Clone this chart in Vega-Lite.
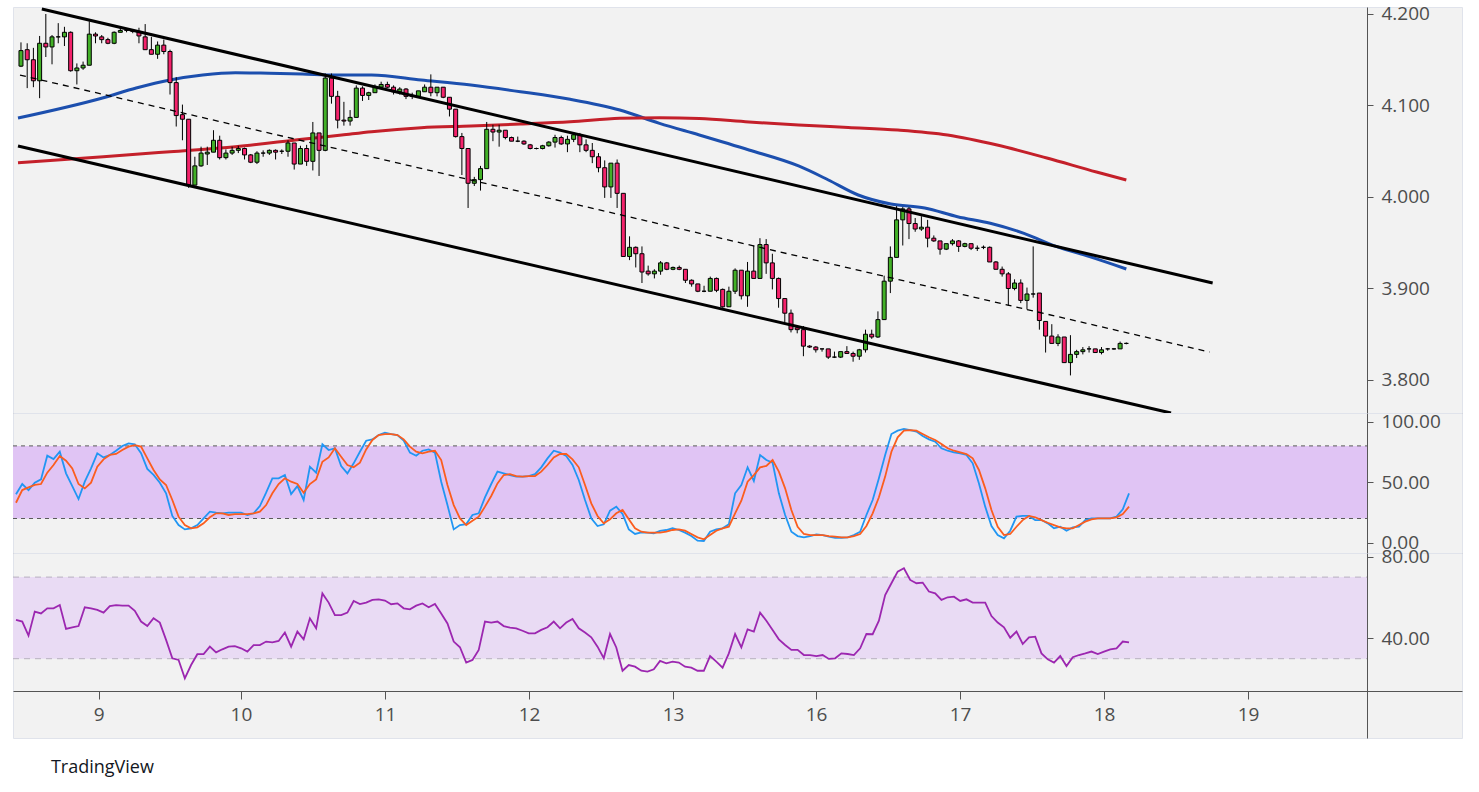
{
  "$schema": "https://vega.github.io/schema/vega-lite/v6.json",
  "background": "#ffffff",
  "padding": {"left": 11, "top": 4, "right": 16, "bottom": 0},
  "title": {
    "text": "TradingView",
    "orient": "bottom",
    "anchor": "start",
    "offset": 20,
    "dx": 39,
    "font": "Open Sans",
    "fontSize": 18,
    "fontWeight": "normal",
    "color": "#131722"
  },
  "spacing": 0,
  "bounds": "flush",
  "resolve": {"scale": {"x": "independent", "y": "independent"}},
  "datasets": {
    "ma": [
      {"i": 0.52, "v": 4.0863, "s": "ma1"}, {"i": 14.27, "v": 4.1085, "s": "ma1"}, {"i": 19.55, "v": 4.1191, "s": "ma1"},
      {"i": 24.99, "v": 4.1279, "s": "ma1"}, {"i": 30.27, "v": 4.1333, "s": "ma1"}, {"i": 35.54, "v": 4.1358, "s": "ma1"},
      {"i": 40.98, "v": 4.1352, "s": "ma1"}, {"i": 46.26, "v": 4.1344, "s": "ma1"}, {"i": 51.54, "v": 4.1333, "s": "ma1"},
      {"i": 57.45, "v": 4.1333, "s": "ma1"}, {"i": 65.45, "v": 4.1279, "s": "ma1"}, {"i": 73.45, "v": 4.1224, "s": "ma1"},
      {"i": 81.44, "v": 4.1151, "s": "ma1"}, {"i": 89.44, "v": 4.1068, "s": "ma1"}, {"i": 97.44, "v": 4.0951, "s": "ma1"},
      {"i": 103.83, "v": 4.0805, "s": "ma1"}, {"i": 110.23, "v": 4.0678, "s": "ma1"}, {"i": 118.23, "v": 4.0514, "s": "ma1"},
      {"i": 126.22, "v": 4.0339, "s": "ma1"}, {"i": 131.02, "v": 4.0186, "s": "ma1"}, {"i": 135.82, "v": 4.0022, "s": "ma1"},
      {"i": 141.09, "v": 3.9923, "s": "ma1"}, {"i": 146.53, "v": 3.988, "s": "ma1"}, {"i": 151.81, "v": 3.9785, "s": "ma1"},
      {"i": 157.09, "v": 3.9713, "s": "ma1"}, {"i": 162.52, "v": 3.9603, "s": "ma1"}, {"i": 167.8, "v": 3.9457, "s": "ma1"},
      {"i": 173.08, "v": 3.9348, "s": "ma1"}, {"i": 179.0, "v": 3.9213, "s": "ma1"},
      {"i": 0.52, "v": 4.0375, "s": "ma2"}, {"i": 14.27, "v": 4.044, "s": "ma2"}, {"i": 24.99, "v": 4.0495, "s": "ma2"},
      {"i": 35.54, "v": 4.055, "s": "ma2"}, {"i": 46.26, "v": 4.0631, "s": "ma2"}, {"i": 52.66, "v": 4.0678, "s": "ma2"},
      {"i": 57.45, "v": 4.0714, "s": "ma2"}, {"i": 65.45, "v": 4.0757, "s": "ma2"}, {"i": 73.45, "v": 4.0776, "s": "ma2"},
      {"i": 81.44, "v": 4.0798, "s": "ma2"}, {"i": 89.44, "v": 4.0823, "s": "ma2"}, {"i": 97.44, "v": 4.086, "s": "ma2"},
      {"i": 103.83, "v": 4.0867, "s": "ma2"}, {"i": 110.23, "v": 4.0858, "s": "ma2"}, {"i": 118.23, "v": 4.082, "s": "ma2"},
      {"i": 126.22, "v": 4.0787, "s": "ma2"}, {"i": 134.22, "v": 4.076, "s": "ma2"}, {"i": 142.21, "v": 4.0732, "s": "ma2"},
      {"i": 150.21, "v": 4.0678, "s": "ma2"}, {"i": 158.2, "v": 4.0568, "s": "ma2"}, {"i": 166.2, "v": 4.0426, "s": "ma2"},
      {"i": 174.2, "v": 4.0273, "s": "ma2"}, {"i": 179.0, "v": 4.0186, "s": "ma2"}
    ],
    "chan": [
      {"i": 4.36, "v": 4.2055, "s": "top"}, {"i": 192.9, "v": 3.906, "s": "top"},
      {"i": 0.52, "v": 4.0557, "s": "bottom"}, {"i": 186.2, "v": 3.7639, "s": "bottom"},
      {"i": 0.84, "v": 4.1333, "s": "mid"}, {"i": 192.4, "v": 3.8306, "s": "mid"}
    ],
    "bars": [
      {"i":1,"o":4.143,"h":4.169,"l":4.142,"c":4.160,"k":40,"d":33,"r":49},
      {"i":2,"o":4.161,"h":4.168,"l":4.119,"c":4.150,"k":48.5,"d":43.5,"r":48.2},
      {"i":3,"o":4.150,"h":4.163,"l":4.120,"c":4.127,"k":43.5,"d":45.7,"r":41.3},
      {"i":4,"o":4.127,"h":4.176,"l":4.108,"c":4.168,"k":49.6,"d":47.7,"r":53.1},
      {"i":5,"o":4.168,"h":4.200,"l":4.153,"c":4.164,"k":52.3,"d":48.5,"r":52.2},
      {"i":6,"o":4.164,"h":4.177,"l":4.145,"c":4.175,"k":71.9,"d":57.9,"r":54.7},
      {"i":7,"o":4.175,"h":4.190,"l":4.168,"c":4.175,"k":69.1,"d":64.2,"r":54.7},
      {"i":8,"o":4.175,"h":4.186,"l":4.165,"c":4.180,"k":75.2,"d":71.6,"r":56.3},
      {"i":9,"o":4.180,"h":4.181,"l":4.137,"c":4.138,"k":57.3,"d":67.8,"r":44.6},
      {"i":10,"o":4.138,"h":4.146,"l":4.123,"c":4.141,"k":46.8,"d":61.4,"r":45.4},
      {"i":11,"o":4.141,"h":4.148,"l":4.139,"c":4.144,"k":36.1,"d":48.5,"r":46.0},
      {"i":12,"o":4.144,"h":4.192,"l":4.144,"c":4.178,"k":50.4,"d":44.9,"r":55.2},
      {"i":13,"o":4.178,"h":4.180,"l":4.168,"c":4.176,"k":61.5,"d":49.6,"r":54.7},
      {"i":14,"o":4.175,"h":4.177,"l":4.168,"c":4.172,"k":73.9,"d":62.8,"r":53.9},
      {"i":15,"o":4.172,"h":4.174,"l":4.167,"c":4.168,"k":70.5,"d":68.9,"r":52.6},
      {"i":16,"o":4.168,"h":4.181,"l":4.167,"c":4.180,"k":72.5,"d":72.5,"r":55.8},
      {"i":17,"o":4.180,"h":4.185,"l":4.180,"c":4.182,"k":76.0,"d":73.3,"r":56.3},
      {"i":18,"o":4.182,"h":4.184,"l":4.180,"c":4.182,"k":79.9,"d":76.6,"r":56.0},
      {"i":19,"o":4.182,"h":4.183,"l":4.179,"c":4.181,"k":82.1,"d":79.4,"r":56.0},
      {"i":20,"o":4.181,"h":4.185,"l":4.168,"c":4.176,"k":81.3,"d":80.7,"r":53.5},
      {"i":21,"o":4.175,"h":4.189,"l":4.161,"c":4.161,"k":73.9,"d":79.4,"r":48.2},
      {"i":22,"o":4.161,"h":4.175,"l":4.156,"c":4.156,"k":61.0,"d":69.7,"r":46.0},
      {"i":23,"o":4.156,"h":4.170,"l":4.151,"c":4.166,"k":56.0,"d":60.1,"r":49.8},
      {"i":24,"o":4.166,"h":4.172,"l":4.156,"c":4.159,"k":49.6,"d":52.3,"r":47.7},
      {"i":25,"o":4.159,"h":4.161,"l":4.112,"c":4.125,"k":40.8,"d":47.7,"r":39.2},
      {"i":26,"o":4.125,"h":4.131,"l":4.077,"c":4.089,"k":22.1,"d":35.3,"r":30.2},
      {"i":27,"o":4.090,"h":4.101,"l":4.062,"c":4.085,"k":14.6,"d":21.5,"r":29.4},
      {"i":28,"o":4.085,"h":4.085,"l":4.010,"c":4.013,"k":11.0,"d":14.6,"r":20.4},
      {"i":29,"o":4.013,"h":4.044,"l":4.013,"c":4.034,"k":11.9,"d":11.9,"r":26.9},
      {"i":30,"o":4.034,"h":4.055,"l":4.033,"c":4.048,"k":14.6,"d":12.7,"r":32.2},
      {"i":31,"o":4.047,"h":4.055,"l":4.035,"c":4.049,"k":20.1,"d":16.0,"r":32.3},
      {"i":32,"o":4.049,"h":4.073,"l":4.049,"c":4.062,"k":25.6,"d":21.0,"r":35.9},
      {"i":33,"o":4.062,"h":4.067,"l":4.041,"c":4.043,"k":24.8,"d":24.3,"r":33.1},
      {"i":34,"o":4.043,"h":4.052,"l":4.041,"c":4.048,"k":24.3,"d":24.3,"r":34.6},
      {"i":35,"o":4.048,"h":4.055,"l":4.046,"c":4.051,"k":24.8,"d":22.9,"r":35.9},
      {"i":36,"o":4.051,"h":4.056,"l":4.048,"c":4.053,"k":24.8,"d":23.7,"r":36.2},
      {"i":37,"o":4.053,"h":4.054,"l":4.041,"c":4.046,"k":24.8,"d":23.7,"r":35.1},
      {"i":38,"o":4.046,"h":4.047,"l":4.037,"c":4.038,"k":22.9,"d":23.7,"r":33.5},
      {"i":39,"o":4.038,"h":4.050,"l":4.036,"c":4.048,"k":24.3,"d":24.3,"r":36.7},
      {"i":40,"o":4.048,"h":4.051,"l":4.044,"c":4.048,"k":30.3,"d":25.6,"r":36.7},
      {"i":41,"o":4.048,"h":4.052,"l":4.046,"c":4.051,"k":41.3,"d":31.1,"r":38.4},
      {"i":42,"o":4.051,"h":4.052,"l":4.041,"c":4.049,"k":53.2,"d":40.8,"r":38.0},
      {"i":43,"o":4.050,"h":4.052,"l":4.047,"c":4.050,"k":53.2,"d":48.5,"r":38.7},
      {"i":44,"o":4.050,"h":4.062,"l":4.044,"c":4.059,"k":56.0,"d":53.2,"r":42.8},
      {"i":45,"o":4.059,"h":4.059,"l":4.030,"c":4.036,"k":40.2,"d":50.4,"r":35.9},
      {"i":46,"o":4.036,"h":4.056,"l":4.036,"c":4.053,"k":46.8,"d":48.5,"r":43.3},
      {"i":47,"o":4.053,"h":4.057,"l":4.034,"c":4.039,"k":35.3,"d":41.3,"r":39.5},
      {"i":48,"o":4.039,"h":4.082,"l":4.029,"c":4.070,"k":62.8,"d":48.5,"r":49.8},
      {"i":49,"o":4.070,"h":4.070,"l":4.023,"c":4.051,"k":57.8,"d":52.3,"r":44.9},
      {"i":50,"o":4.051,"h":4.135,"l":4.050,"c":4.130,"k":81.3,"d":66.9,"r":62.0},
      {"i":51,"o":4.130,"h":4.135,"l":4.102,"c":4.110,"k":76.6,"d":70.5,"r":57.5},
      {"i":52,"o":4.110,"h":4.116,"l":4.075,"c":4.084,"k":78.0,"d":78.0,"r":51.4},
      {"i":53,"o":4.084,"h":4.104,"l":4.078,"c":4.083,"k":63.4,"d":71.1,"r":51.4},
      {"i":54,"o":4.083,"h":4.095,"l":4.078,"c":4.087,"k":57.3,"d":64.2,"r":52.6},
      {"i":55,"o":4.087,"h":4.122,"l":4.087,"c":4.119,"k":65.6,"d":62.3,"r":58.3},
      {"i":56,"o":4.119,"h":4.121,"l":4.105,"c":4.111,"k":75.2,"d":66.1,"r":56.8},
      {"i":57,"o":4.111,"h":4.115,"l":4.106,"c":4.114,"k":84.3,"d":77.1,"r":57.5},
      {"i":58,"o":4.114,"h":4.123,"l":4.114,"c":4.120,"k":85.4,"d":84.9,"r":58.8},
      {"i":59,"o":4.120,"h":4.126,"l":4.120,"c":4.123,"k":89.0,"d":89.0,"r":59.1},
      {"i":60,"o":4.123,"h":4.126,"l":4.119,"c":4.120,"k":90.9,"d":89.8,"r":58.5},
      {"i":61,"o":4.120,"h":4.122,"l":4.112,"c":4.115,"k":89.8,"d":89.8,"r":56.7},
      {"i":62,"o":4.115,"h":4.120,"l":4.112,"c":4.118,"k":89.0,"d":89.0,"r":57.1},
      {"i":63,"o":4.118,"h":4.119,"l":4.107,"c":4.110,"k":84.3,"d":85.4,"r":54.7},
      {"i":64,"o":4.110,"h":4.114,"l":4.107,"c":4.111,"k":74.4,"d":79.4,"r":54.2},
      {"i":65,"o":4.110,"h":4.116,"l":4.110,"c":4.116,"k":71.9,"d":75.2,"r":56.0},
      {"i":66,"o":4.115,"h":4.123,"l":4.115,"c":4.120,"k":76.0,"d":73.8,"r":57.1},
      {"i":67,"o":4.120,"h":4.134,"l":4.110,"c":4.114,"k":77.1,"d":75.2,"r":55.2},
      {"i":68,"o":4.114,"h":4.120,"l":4.110,"c":4.120,"k":74.4,"d":76.0,"r":56.8},
      {"i":69,"o":4.120,"h":4.120,"l":4.108,"c":4.109,"k":50.4,"d":68.3,"r":52.2},
      {"i":70,"o":4.109,"h":4.109,"l":4.088,"c":4.096,"k":31.1,"d":47.7,"r":47.3},
      {"i":71,"o":4.096,"h":4.096,"l":4.065,"c":4.066,"k":11.0,"d":31.1,"r":38.4},
      {"i":72,"o":4.066,"h":4.070,"l":4.024,"c":4.053,"k":14.6,"d":20.1,"r":35.6},
      {"i":73,"o":4.053,"h":4.053,"l":3.988,"c":4.015,"k":15.4,"d":14.6,"r":28.1},
      {"i":74,"o":4.015,"h":4.022,"l":4.012,"c":4.019,"k":22.9,"d":18.2,"r":29.4},
      {"i":75,"o":4.019,"h":4.034,"l":4.007,"c":4.031,"k":24.3,"d":21.5,"r":34.3},
      {"i":76,"o":4.031,"h":4.082,"l":4.031,"c":4.074,"k":37.5,"d":29.8,"r":48.2},
      {"i":77,"o":4.074,"h":4.079,"l":4.061,"c":4.071,"k":48.5,"d":38.6,"r":47.7},
      {"i":78,"o":4.071,"h":4.079,"l":4.055,"c":4.073,"k":58.7,"d":49.0,"r":48.2},
      {"i":79,"o":4.073,"h":4.073,"l":4.063,"c":4.065,"k":57.3,"d":55.9,"r":46.0},
      {"i":80,"o":4.065,"h":4.066,"l":4.061,"c":4.061,"k":55.9,"d":56.7,"r":45.2},
      {"i":81,"o":4.061,"h":4.066,"l":4.060,"c":4.061,"k":54.6,"d":55.1,"r":44.9},
      {"i":82,"o":4.061,"h":4.062,"l":4.057,"c":4.058,"k":54.6,"d":54.6,"r":43.7},
      {"i":83,"o":4.057,"h":4.058,"l":4.052,"c":4.053,"k":55.1,"d":55.1,"r":42.4},
      {"i":84,"o":4.053,"h":4.054,"l":4.052,"c":4.053,"k":56.7,"d":55.1,"r":42.4},
      {"i":85,"o":4.053,"h":4.057,"l":4.052,"c":4.056,"k":62.3,"d":58.7,"r":44.1},
      {"i":86,"o":4.056,"h":4.061,"l":4.055,"c":4.060,"k":69.7,"d":64.2,"r":45.4},
      {"i":87,"o":4.060,"h":4.068,"l":4.054,"c":4.065,"k":76.0,"d":70.5,"r":48.2},
      {"i":88,"o":4.065,"h":4.067,"l":4.057,"c":4.058,"k":74.4,"d":73.3,"r":44.9},
      {"i":89,"o":4.058,"h":4.067,"l":4.049,"c":4.063,"k":71.6,"d":73.3,"r":47.7},
      {"i":90,"o":4.063,"h":4.071,"l":4.060,"c":4.068,"k":64.2,"d":68.9,"r":49.5},
      {"i":91,"o":4.068,"h":4.070,"l":4.049,"c":4.057,"k":51.8,"d":62.3,"r":44.9},
      {"i":92,"o":4.057,"h":4.063,"l":4.049,"c":4.051,"k":35.3,"d":47.7,"r":42.8},
      {"i":93,"o":4.051,"h":4.059,"l":4.037,"c":4.044,"k":20.1,"d":32.5,"r":40.5},
      {"i":94,"o":4.044,"h":4.048,"l":4.027,"c":4.032,"k":13.8,"d":22.1,"r":35.9},
      {"i":95,"o":4.032,"h":4.040,"l":3.999,"c":4.011,"k":15.2,"d":16.0,"r":30.2},
      {"i":96,"o":4.011,"h":4.037,"l":3.999,"c":4.037,"k":26.5,"d":19.3,"r":42.1},
      {"i":97,"o":4.037,"h":4.041,"l":3.988,"c":4.004,"k":29.8,"d":24.3,"r":35.5},
      {"i":98,"o":4.004,"h":4.004,"l":3.935,"c":3.935,"k":23.7,"d":27.0,"r":24.1},
      {"i":99,"o":3.935,"h":3.957,"l":3.931,"c":3.945,"k":11.0,"d":19.3,"r":26.9},
      {"i":100,"o":3.945,"h":3.946,"l":3.923,"c":3.938,"k":7.2,"d":11.9,"r":26.1},
      {"i":101,"o":3.938,"h":3.946,"l":3.906,"c":3.918,"k":8.6,"d":9.1,"r":24.1},
      {"i":102,"o":3.919,"h":3.925,"l":3.914,"c":3.916,"k":8.3,"d":8.3,"r":23.7},
      {"i":103,"o":3.916,"h":3.921,"l":3.911,"c":3.919,"k":7.7,"d":8.3,"r":24.8},
      {"i":104,"o":3.919,"h":3.930,"l":3.915,"c":3.928,"k":9.7,"d":8.3,"r":28.9},
      {"i":105,"o":3.928,"h":3.929,"l":3.920,"c":3.921,"k":10.5,"d":9.1,"r":27.7},
      {"i":106,"o":3.921,"h":3.924,"l":3.920,"c":3.923,"k":11.9,"d":10.5,"r":28.6},
      {"i":107,"o":3.923,"h":3.925,"l":3.920,"c":3.921,"k":10.5,"d":11.0,"r":28.1},
      {"i":108,"o":3.921,"h":3.921,"l":3.906,"c":3.909,"k":8.3,"d":9.9,"r":26.1},
      {"i":109,"o":3.909,"h":3.910,"l":3.902,"c":3.905,"k":5.5,"d":7.2,"r":25.6},
      {"i":110,"o":3.905,"h":3.905,"l":3.896,"c":3.897,"k":1.7,"d":4.4,"r":24.1},
      {"i":111,"o":3.897,"h":3.903,"l":3.896,"c":3.897,"k":1.4,"d":2.8,"r":24.1},
      {"i":112,"o":3.897,"h":3.913,"l":3.897,"c":3.911,"k":9.1,"d":6.3,"r":31.3},
      {"i":113,"o":3.911,"h":3.912,"l":3.896,"c":3.898,"k":11.0,"d":9.9,"r":28.6},
      {"i":114,"o":3.899,"h":3.900,"l":3.879,"c":3.880,"k":11.9,"d":11.9,"r":25.6},
      {"i":115,"o":3.880,"h":3.902,"l":3.880,"c":3.897,"k":15.2,"d":13.2,"r":32.6},
      {"i":116,"o":3.897,"h":3.922,"l":3.894,"c":3.920,"k":40.8,"d":24.3,"r":42.1},
      {"i":117,"o":3.920,"h":3.920,"l":3.888,"c":3.892,"k":47.7,"d":34.7,"r":35.6},
      {"i":118,"o":3.892,"h":3.929,"l":3.880,"c":3.919,"k":62.3,"d":50.4,"r":44.4},
      {"i":119,"o":3.919,"h":3.947,"l":3.911,"c":3.911,"k":51.0,"d":55.9,"r":43.3},
      {"i":120,"o":3.911,"h":3.955,"l":3.911,"c":3.948,"k":72.5,"d":62.3,"r":52.6},
      {"i":121,"o":3.948,"h":3.954,"l":3.916,"c":3.928,"k":68.3,"d":63.4,"r":48.6},
      {"i":122,"o":3.928,"h":3.938,"l":3.899,"c":3.911,"k":66.1,"d":68.3,"r":44.1},
      {"i":123,"o":3.911,"h":3.912,"l":3.879,"c":3.889,"k":40.8,"d":58.7,"r":39.5},
      {"i":124,"o":3.889,"h":3.889,"l":3.863,"c":3.873,"k":22.9,"d":44.9,"r":36.7},
      {"i":125,"o":3.873,"h":3.877,"l":3.852,"c":3.855,"k":9.1,"d":27.0,"r":34.3},
      {"i":126,"o":3.857,"h":3.860,"l":3.851,"c":3.855,"k":5.5,"d":13.2,"r":34.3},
      {"i":127,"o":3.855,"h":3.859,"l":3.826,"c":3.837,"k":4.4,"d":7.2,"r":31.8},
      {"i":128,"o":3.837,"h":3.838,"l":3.835,"c":3.836,"k":5.5,"d":6.3,"r":31.8},
      {"i":129,"o":3.836,"h":3.837,"l":3.830,"c":3.833,"k":6.9,"d":6.3,"r":31.3},
      {"i":130,"o":3.834,"h":3.834,"l":3.831,"c":3.834,"k":6.3,"d":6.3,"r":31.8},
      {"i":131,"o":3.834,"h":3.834,"l":3.823,"c":3.825,"k":5.0,"d":5.5,"r":29.9},
      {"i":132,"o":3.825,"h":3.831,"l":3.824,"c":3.825,"k":4.1,"d":5.0,"r":30.2},
      {"i":133,"o":3.825,"h":3.831,"l":3.824,"c":3.831,"k":4.1,"d":4.4,"r":32.6},
      {"i":134,"o":3.831,"h":3.837,"l":3.829,"c":3.829,"k":4.4,"d":4.4,"r":32.3},
      {"i":135,"o":3.829,"h":3.831,"l":3.820,"c":3.826,"k":6.3,"d":5.5,"r":31.8},
      {"i":136,"o":3.826,"h":3.834,"l":3.822,"c":3.833,"k":9.1,"d":7.2,"r":35.1},
      {"i":137,"o":3.833,"h":3.855,"l":3.830,"c":3.850,"k":22.9,"d":13.8,"r":42.1},
      {"i":138,"o":3.850,"h":3.855,"l":3.845,"c":3.847,"k":35.3,"d":24.3,"r":42.0},
      {"i":139,"o":3.847,"h":3.875,"l":3.846,"c":3.866,"k":53.2,"d":37.5,"r":48.6},
      {"i":140,"o":3.866,"h":3.914,"l":3.866,"c":3.908,"k":72.5,"d":54.6,"r":61.2},
      {"i":141,"o":3.908,"h":3.946,"l":3.895,"c":3.934,"k":89.8,"d":75.2,"r":67.0},
      {"i":142,"o":3.934,"h":3.990,"l":3.934,"c":3.975,"k":92.6,"d":87.1,"r":72.7},
      {"i":143,"o":3.975,"h":3.989,"l":3.947,"c":3.987,"k":94.0,"d":92.6,"r":74.3},
      {"i":144,"o":3.987,"h":3.989,"l":3.954,"c":3.971,"k":93.1,"d":93.1,"r":68.6},
      {"i":145,"o":3.971,"h":3.977,"l":3.962,"c":3.965,"k":91.8,"d":92.6,"r":67.0},
      {"i":146,"o":3.965,"h":3.979,"l":3.963,"c":3.967,"k":88.2,"d":89.8,"r":67.3},
      {"i":147,"o":3.967,"h":3.975,"l":3.945,"c":3.955,"k":85.4,"d":87.1,"r":62.9},
      {"i":148,"o":3.955,"h":3.958,"l":3.951,"c":3.952,"k":83.5,"d":84.9,"r":62.0},
      {"i":149,"o":3.952,"h":3.952,"l":3.937,"c":3.943,"k":78.0,"d":81.6,"r":58.8},
      {"i":150,"o":3.943,"h":3.949,"l":3.942,"c":3.949,"k":76.0,"d":78.0,"r":60.1},
      {"i":151,"o":3.949,"h":3.954,"l":3.947,"c":3.952,"k":74.7,"d":76.0,"r":60.4},
      {"i":152,"o":3.952,"h":3.953,"l":3.940,"c":3.946,"k":73.8,"d":74.7,"r":58.3},
      {"i":153,"o":3.946,"h":3.950,"l":3.945,"c":3.949,"k":72.5,"d":73.3,"r":59.1},
      {"i":154,"o":3.949,"h":3.949,"l":3.942,"c":3.944,"k":65.6,"d":69.7,"r":57.5},
      {"i":155,"o":3.944,"h":3.947,"l":3.941,"c":3.944,"k":49.0,"d":60.1,"r":57.5},
      {"i":156,"o":3.945,"h":3.947,"l":3.943,"c":3.945,"k":29.8,"d":44.9,"r":57.5},
      {"i":157,"o":3.945,"h":3.946,"l":3.929,"c":3.929,"k":13.8,"d":27.0,"r":50.9},
      {"i":158,"o":3.929,"h":3.930,"l":3.921,"c":3.921,"k":6.3,"d":13.2,"r":47.7},
      {"i":159,"o":3.921,"h":3.924,"l":3.913,"c":3.916,"k":3.6,"d":6.3,"r":45.4},
      {"i":160,"o":3.916,"h":3.918,"l":3.881,"c":3.900,"k":9.9,"d":7.2,"r":40.3},
      {"i":161,"o":3.900,"h":3.910,"l":3.898,"c":3.906,"k":21.5,"d":13.2,"r":43.3},
      {"i":162,"o":3.906,"h":3.910,"l":3.884,"c":3.887,"k":22.1,"d":18.7,"r":37.2},
      {"i":163,"o":3.887,"h":3.901,"l":3.877,"c":3.894,"k":22.1,"d":22.1,"r":40.5},
      {"i":164,"o":3.894,"h":3.946,"l":3.890,"c":3.894,"k":18.7,"d":21.0,"r":40.8},
      {"i":165,"o":3.895,"h":3.895,"l":3.855,"c":3.865,"k":18.7,"d":18.7,"r":32.6},
      {"i":166,"o":3.864,"h":3.864,"l":3.830,"c":3.848,"k":16.0,"d":16.5,"r":29.7},
      {"i":167,"o":3.848,"h":3.861,"l":3.840,"c":3.840,"k":11.9,"d":14.6,"r":28.1},
      {"i":168,"o":3.840,"h":3.850,"l":3.837,"c":3.847,"k":13.2,"d":12.7,"r":31.3},
      {"i":169,"o":3.847,"h":3.847,"l":3.819,"c":3.819,"k":9.9,"d":11.9,"r":26.4},
      {"i":170,"o":3.819,"h":3.849,"l":3.805,"c":3.828,"k":12.7,"d":11.9,"r":30.7},
      {"i":171,"o":3.828,"h":3.833,"l":3.824,"c":3.831,"k":13.2,"d":14.6,"r":31.8},
      {"i":172,"o":3.831,"h":3.836,"l":3.828,"c":3.833,"k":18.7,"d":17.4,"r":32.6},
      {"i":173,"o":3.834,"h":3.837,"l":3.830,"c":3.834,"k":20.1,"d":19.3,"r":33.5},
      {"i":174,"o":3.834,"h":3.834,"l":3.830,"c":3.830,"k":20.1,"d":20.1,"r":32.3},
      {"i":175,"o":3.830,"h":3.836,"l":3.828,"c":3.833,"k":20.1,"d":20.1,"r":33.5},
      {"i":176,"o":3.834,"h":3.835,"l":3.832,"c":3.834,"k":20.1,"d":20.1,"r":34.6},
      {"i":177,"o":3.834,"h":3.835,"l":3.833,"c":3.834,"k":21.5,"d":21.0,"r":35.1},
      {"i":178,"o":3.834,"h":3.842,"l":3.834,"c":3.840,"k":27.6,"d":23.7,"r":38.4},
      {"i":179,"o":3.840,"h":3.841,"l":3.839,"c":3.840,"k":40.8,"d":29.8,"r":38.0}
    ]
  },
  "vconcat": [
    {
      "width": 1449,
      "height": 406,
      "layer": [
        {
          "data": {"name": "ma"},
          "mark": {"type": "line", "strokeWidth": 3, "interpolate": "monotone", "clip": true},
          "encoding": {
            "x": {"field": "i", "type": "quantitative", "scale": {"domain": [0.52, 232.25], "nice": false, "zero": false},
                  "axis": {"orient": "bottom", "labels": false, "ticks": false, "title": null, "domainColor": "#555555"}},
            "y": {"field": "v", "type": "quantitative", "scale": {"domain": [3.76393, 4.20765], "nice": false, "zero": false},
                  "axis": {"orient": "right", "offset": -95, "values": [3.8, 3.9, 4.0, 4.1, 4.2], "format": ".3f", "title": null, "tickSize": 6, "labelPadding": 8}},
            "color": {"field": "s", "type": "nominal", "scale": {"domain": ["ma1", "ma2"], "range": ["#1c4fae", "#c4202a"]}, "legend": null}
          }
        },
        {
          "data": {"name": "bars"},
          "mark": {"type": "rule", "color": "#000000", "strokeWidth": 1},
          "encoding": {
            "x": {"field": "i", "type": "quantitative"},
            "y": {"field": "l", "type": "quantitative"},
            "y2": {"field": "h"}
          }
        },
        {
          "data": {"name": "bars"},
          "mark": {"type": "bar", "size": 4, "stroke": "#000000", "strokeWidth": 1},
          "encoding": {
            "x": {"field": "i", "type": "quantitative"},
            "y": {"field": "o", "type": "quantitative"},
            "y2": {"field": "c"},
            "fill": {"condition": {"test": "datum.c >= datum.o", "value": "#42b027"}, "value": "#f4226b"}
          }
        },
        {
          "data": {"name": "chan"},
          "transform": [{"filter": "datum.s != 'mid'"}],
          "mark": {"type": "line", "color": "#000000", "strokeWidth": 3, "clip": true},
          "encoding": {
            "x": {"field": "i", "type": "quantitative"},
            "y": {"field": "v", "type": "quantitative"},
            "detail": {"field": "s"}
          }
        },
        {
          "data": {"name": "chan"},
          "transform": [{"filter": "datum.s == 'mid'"}],
          "mark": {"type": "line", "color": "#000000", "strokeWidth": 1.3, "strokeDash": [6, 5], "clip": true},
          "encoding": {
            "x": {"field": "i", "type": "quantitative"},
            "y": {"field": "v", "type": "quantitative"}
          }
        }
      ]
    },
    {
      "width": 1449,
      "height": 140,
      "layer": [
        {
          "data": {"values": [{}]},
          "mark": {"type": "rect", "color": "#e0c4f4"},
          "encoding": {
            "x": {"datum": 0.52, "type": "quantitative", "scale": {"domain": [0.52, 232.25], "nice": false, "zero": false},
                  "axis": {"orient": "bottom", "labels": false, "ticks": false, "title": null, "domainColor": "#555555"}},
            "x2": {"datum": 217.06},
            "y": {"datum": 20, "type": "quantitative", "scale": {"domain": [-8.51, 107.19], "nice": false, "zero": false},
                  "axis": {"orient": "right", "offset": -95, "values": [0, 50, 100], "format": ".2f", "title": null, "tickSize": 6, "labelPadding": 8}},
            "y2": {"datum": 80}
          }
        },
        {
          "data": {"values": [{"lvl": 20}, {"lvl": 80}]},
          "mark": {"type": "rule", "color": "#5a5a5a", "strokeWidth": 1, "strokeDash": [4, 4]},
          "encoding": {
            "x": {"datum": 0.52, "type": "quantitative"},
            "x2": {"datum": 217.06},
            "y": {"field": "lvl", "type": "quantitative"}
          }
        },
        {
          "data": {"name": "bars"},
          "mark": {"type": "line", "color": "#2196f3", "strokeWidth": 1.8},
          "encoding": {
            "x": {"field": "i", "type": "quantitative"},
            "y": {"field": "k", "type": "quantitative"}
          }
        },
        {
          "data": {"name": "bars"},
          "mark": {"type": "line", "color": "#fb5d1e", "strokeWidth": 1.8},
          "encoding": {
            "x": {"field": "i", "type": "quantitative"},
            "y": {"field": "d", "type": "quantitative"}
          }
        }
      ]
    },
    {
      "width": 1449,
      "height": 185,
      "layer": [
        {
          "data": {"values": [{}]},
          "mark": {"type": "rect", "color": "#e9dbf4"},
          "encoding": {
            "x": {"datum": 0.52, "type": "quantitative", "scale": {"domain": [0.52, 232.25], "nice": false, "zero": false},
                  "axis": {"orient": "bottom", "offset": -47, "values": [14.21, 36.98, 60.01, 83.04, 106.07, 128.94, 151.97, 175.0, 198.03],
                           "labelExpr": "['9','10','11','12','13','16','17','18','19'][round((datum.value - 14.21) / 23)]",
                           "title": null, "tickSize": 8, "labelPadding": 6, "domainColor": "#555555"}},
            "x2": {"datum": 217.06},
            "y": {"datum": 30, "type": "quantitative", "scale": {"domain": [-8.87, 81.81], "nice": false, "zero": false},
                  "axis": {"orient": "right", "offset": -95, "values": [40, 80], "format": ".2f", "title": null, "tickSize": 6, "labelPadding": 8}},
            "y2": {"datum": 70}
          }
        },
        {
          "data": {"values": [{"lvl": 30}, {"lvl": 70}]},
          "mark": {"type": "rule", "color": "#b8b1bf", "strokeWidth": 1, "strokeDash": [6, 5]},
          "encoding": {
            "x": {"datum": 0.52, "type": "quantitative"},
            "x2": {"datum": 217.06},
            "y": {"field": "lvl", "type": "quantitative"}
          }
        },
        {
          "data": {"name": "bars"},
          "mark": {"type": "line", "color": "#9c27b0", "strokeWidth": 1.8},
          "encoding": {
            "x": {"field": "i", "type": "quantitative"},
            "y": {"field": "r", "type": "quantitative"}
          }
        }
      ]
    }
  ],
  "config": {
    "view": {"stroke": "#e0e3eb", "fill": "#f2f2f2"},
    "axis": {
      "grid": false,
      "labelFont": "Open Sans",
      "labelFontSize": 19,
      "labelColor": "#4d4d4d",
      "domainColor": "#555555",
      "tickColor": "#555555",
      "domainWidth": 1,
      "tickWidth": 1
    }
  }
}
